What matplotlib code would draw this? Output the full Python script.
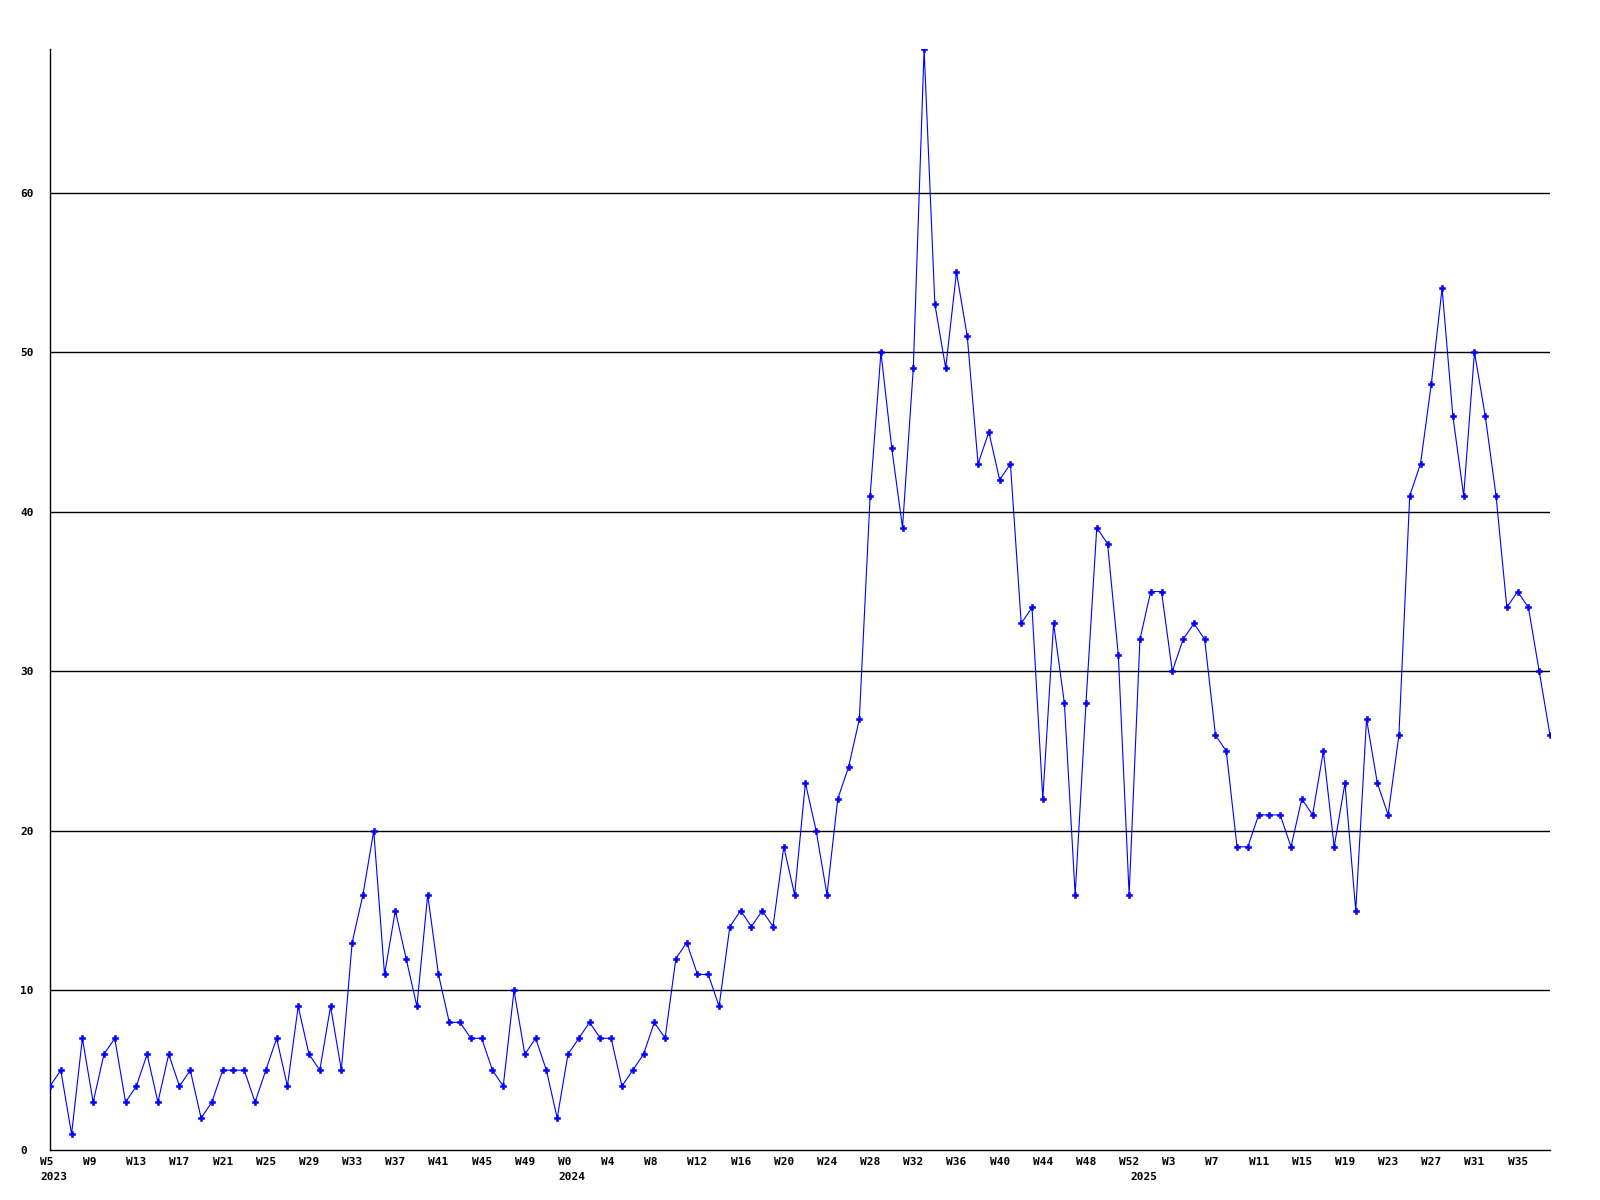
import matplotlib
matplotlib.use("Agg")
import matplotlib.pyplot as plt
import matplotlib.transforms as mtransforms

# weekly counts, 2023 W5 .. 2025 W38
values_2023 = [4, 5, 1, 7, 3, 6, 7, 3, 4, 6, 3, 6, 4, 5, 2, 3, 5, 5, 5, 3,
               5, 7, 4, 9, 6, 5, 9, 5, 13, 16, 20, 11, 15, 12, 9, 16, 11, 8, 8, 7,
               7, 5, 4, 10, 6, 7, 5, 2]
values_2024 = [6, 7, 8, 7, 7, 4, 5, 6, 8, 7, 12, 13, 11, 11, 9, 14, 15, 14, 15, 14,
               19, 16, 23, 20, 16, 22, 24, 27, 41, 50, 44, 39, 49, 69, 53, 49, 55, 51, 43, 45,
               42, 43, 33, 34, 22, 33, 28, 16, 28, 39, 38, 31, 16]
values_2025 = [32, 35, 35, 30, 32, 33, 32, 26, 25, 19, 19, 21, 21, 21, 19, 22, 21, 25, 19, 23,
               15, 27, 23, 21, 26, 41, 43, 48, 54, 46, 41, 50, 46, 41, 34, 35, 34, 30, 26]

weeks_2023 = list(range(5, 53))
weeks_2024 = list(range(0, 53))
weeks_2025 = list(range(0, 39))
years = [2023, 2024, 2025]

values = values_2023 + values_2024 + values_2025
week_labels = ["W%d" % w for w in weeks_2023 + weeks_2024 + weeks_2025]
year_pos = [0, len(weeks_2023), len(weeks_2023) + len(weeks_2024)]

# a week label every 4 points
tick_pos = list(range(0, len(values), 4))
tick_txt = [week_labels[i] for i in tick_pos]

x = list(range(len(values)))

fig = plt.figure(figsize=(16, 12), dpi=100)
ax = fig.add_axes([50 / 1600, 1 - 1150 / 1200, 1500 / 1600, (1150 - 49) / 1200])

ax.plot(x, values, color="#0000ff", linewidth=0.8, marker="P", markersize=4,
        markeredgewidth=0.4, zorder=3)

ax.set_xlim(0, len(values) - 1)
ax.set_ylim(0, max(values))

ax.set_yticks([0, 10, 20, 30, 40, 50, 60])
ax.set_yticklabels(["0", "10", "20", "30", "40", "50", "60"])
for yv in [10, 20, 30, 40, 50, 60]:
    ax.axhline(yv, color="black", linewidth=1, zorder=1)

# year labels sit under the first week of each year
ax.xaxis.remove_overlapping_locs = False
ax.set_xticks(tick_pos)
ax.set_xticklabels(tick_txt)
ax.set_xticks(year_pos, minor=True)
ax.set_xticklabels([str(y) for y in years], minor=True)

for s in ["top", "right"]:
    ax.spines[s].set_visible(False)
for s in ["left", "bottom"]:
    ax.spines[s].set_color("black")
    ax.spines[s].set_linewidth(1)

ax.tick_params(axis="both", which="both", length=0, labelsize=8)
ax.tick_params(axis="y", pad=21.6)
ax.tick_params(axis="x", which="major", pad=5)
ax.tick_params(axis="x", which="minor", pad=15.8)

for t in ax.get_yticklabels():
    t.set_horizontalalignment("left")
    t.set_fontfamily("DejaVu Sans Mono")
    t.set_fontweight("bold")

offset = mtransforms.ScaledTranslation(-10 / 100, 0, fig.dpi_scale_trans)
for t in ax.get_xticklabels() + ax.get_xticklabels(minor=True):
    t.set_horizontalalignment("left")
    t.set_fontfamily("DejaVu Sans Mono")
    t.set_fontweight("bold")
    t.set_transform(t.get_transform() + offset)

fig.savefig("out.png", dpi=100)
